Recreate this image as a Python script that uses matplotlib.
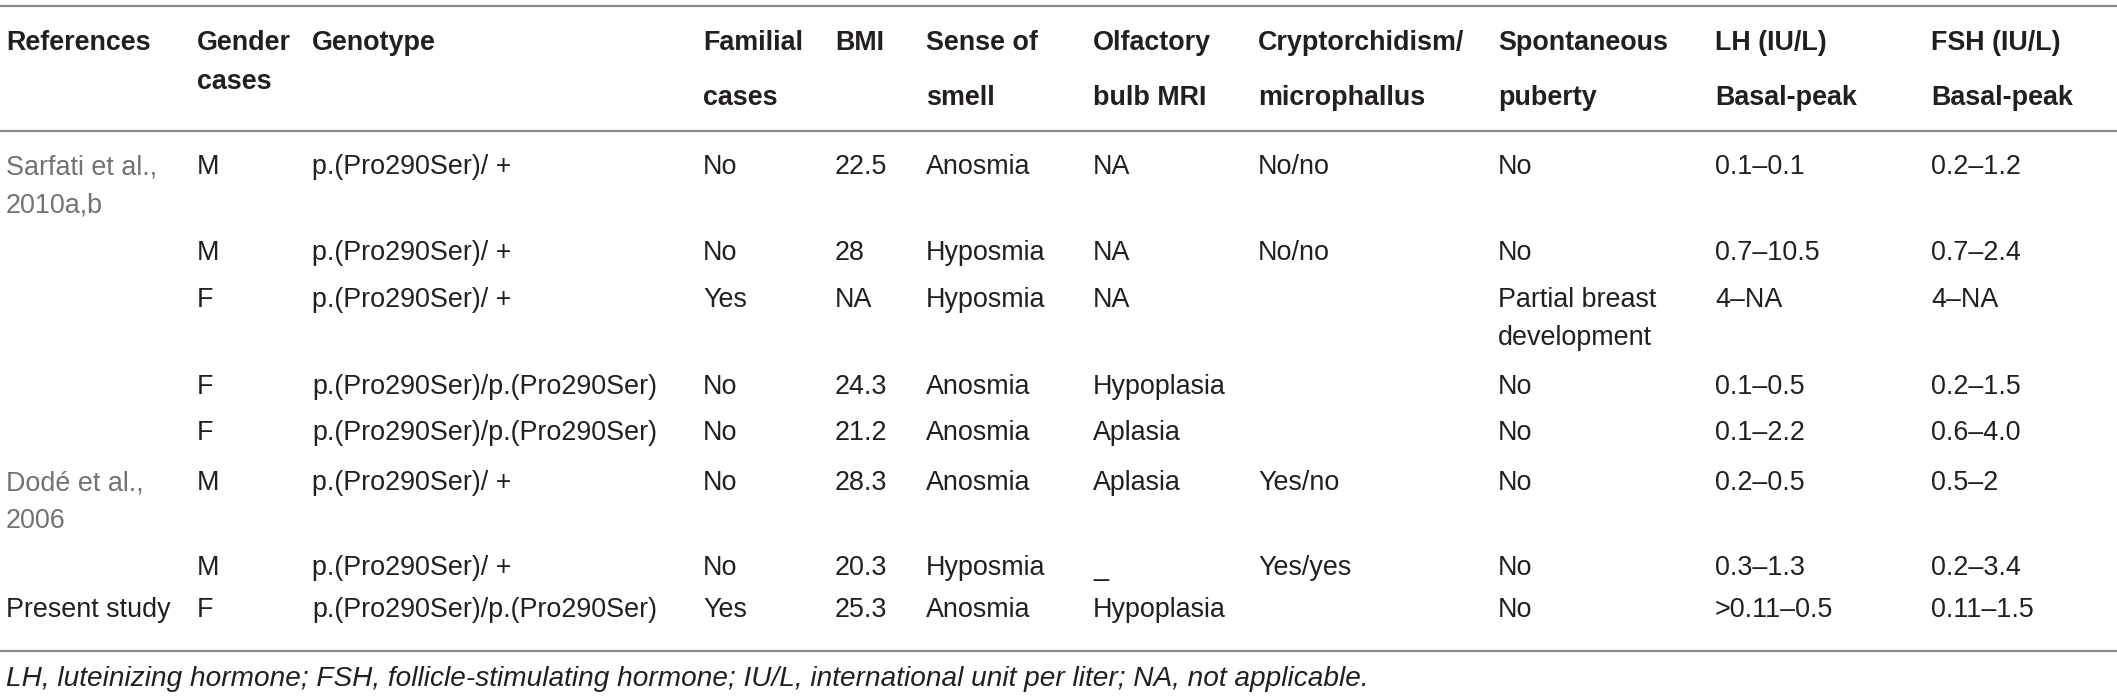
import matplotlib.pyplot as plt

# Table content
headers = ["References", "Gender\ncases", "Genotype", "Familial\ncases", "BMI",
           "Sense of\nsmell", "Olfactory\nbulb MRI", "Cryptorchidism/\nmicrophallus",
           "Spontaneous\npuberty", "LH (IU/L)\nBasal-peak", "FSH (IU/L)\nBasal-peak"]

references = ["Sarfati et al.,\n2010a,b", "", "", "", "", "Dodé et al.,\n2006", "", "Present study"]
gender = ["M", "M", "F", "F", "F", "M", "M", "F"]
genotype = ["p.(Pro290Ser)/ +", "p.(Pro290Ser)/ +", "p.(Pro290Ser)/ +",
            "p.(Pro290Ser)/p.(Pro290Ser)", "p.(Pro290Ser)/p.(Pro290Ser)",
            "p.(Pro290Ser)/ +", "p.(Pro290Ser)/ +", "p.(Pro290Ser)/p.(Pro290Ser)"]
familial = ["No", "No", "Yes", "No", "No", "No", "No", "Yes"]
bmi = ["22.5", "28", "NA", "24.3", "21.2", "28.3", "20.3", "25.3"]
smell = ["Anosmia", "Hyposmia", "Hyposmia", "Anosmia", "Anosmia", "Anosmia", "Hyposmia", "Anosmia"]
olfactory = ["NA", "NA", "NA", "Hypoplasia", "Aplasia", "Aplasia", "_", "Hypoplasia"]
crypto = ["No/no", "No/no", "", "", "", "Yes/no", "Yes/yes", ""]
puberty = ["No", "No", "Partial breast\ndevelopment", "No", "No", "No", "No", "No"]
lh = ["0.1–0.1", "0.7–10.5", "4–NA", "0.1–0.5", "0.1–2.2", "0.2–0.5", "0.3–1.3", ">0.11–0.5"]
fsh = ["0.2–1.2", "0.7–2.4", "4–NA", "0.2–1.5", "0.6–4.0", "0.5–2", "0.2–3.4", "0.11–1.5"]

footnote = ("LH, luteinizing hormone; FSH, follicle-stimulating hormone; "
            "IU/L, international unit per liter; NA, not applicable.")

columns = [references, gender, genotype, familial, bmi, smell, olfactory,
           crypto, puberty, lh, fsh]

# layout (pixels)
col_x = [6, 197, 312, 703, 835, 926, 1093, 1258, 1498, 1715, 1931]
row_y = [167, 253, 300, 387, 433, 483, 568, 610]
line_gap = 38
fs = 19.4
dark = "#231f20"
grey = "#727272"
rule = "#8c8c8c"

plt.rcParams['font.family'] = ['Liberation Sans', 'DejaVu Sans']

fig = plt.figure(figsize=(21.17, 7), dpi=100)
ax = fig.add_axes([0, 0, 1, 1])
ax.set_xlim(0, 2117)
ax.set_ylim(700, 0)
ax.axis('off')

# rules
for y in [6, 131, 651]:
    ax.plot([0, 2117], [y, y], color=rule, linewidth=1.6, solid_capstyle='butt')

# header
for j, h in enumerate(headers):
    lines = h.split("\n")
    gap = 39 if j == 1 else 55
    for k, s in enumerate(lines):
        ax.text(col_x[j], 43 + k * gap, s, fontsize=fs, fontweight='bold',
                color=dark, va='center', ha='left')

# body
for j, col in enumerate(columns):
    for i, val in enumerate(col):
        if not val:
            continue
        color = grey if (j == 0 and val != "Present study") else dark
        for k, s in enumerate(val.split("\n")):
            ax.text(col_x[j], row_y[i] + k * line_gap, s, fontsize=fs,
                    color=color, va='center', ha='left')

ax.text(6, 679, footnote, fontsize=20.2, style='italic', color=dark,
        va='center', ha='left')

fig.savefig("out.png", dpi=100)
